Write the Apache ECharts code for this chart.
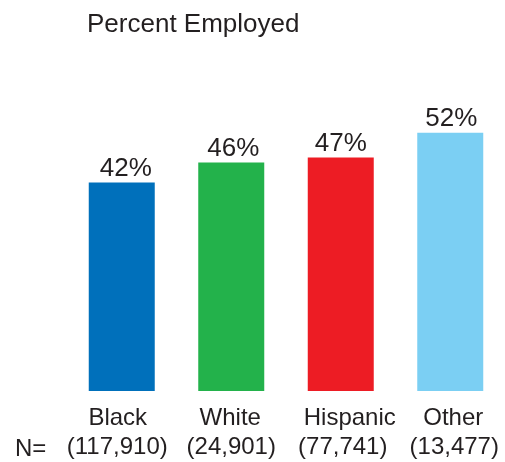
<!DOCTYPE html>
<html>
<head>
<meta charset="utf-8">
<script src="https://cdn.jsdelivr.net/npm/echarts@6/dist/echarts.min.js"></script>
<style>
  html, body { margin: 0; padding: 0; background: #fff; }
  #chart { width: 505px; height: 462px; }
</style>
</head>
<body>
<div id="chart"></div>
<script>
// Employment rate by group, with sample sizes
const groups = ['Black', 'White', 'Hispanic', 'Other'];
const sampleSizes = ['(117,910)', '(24,901)', '(77,741)', '(13,477)'];
const percentEmployed = [42, 46, 47, 52];
const barColors = ['#0070BB', '#23B24B', '#ED1C24', '#7BCFF3'];

const FONT = '"Liberation Sans", Arial, Helvetica, sans-serif';
const TEXT = '#231F20';

// Hand-tuned horizontal nudges (px) for each category's two label lines and value label
const nameShift = [-4, -1, 9, 3];
const countShift = [-4.5, 0, 2, 4];
const valueShift = [4, 2, 0, 1];

function shiftPadding(s) {
  return s < 0 ? [0, -2 * s, 0, 0] : [0, 0, 0, 2 * s];
}

const richStyles = {};
groups.forEach((g, i) => {
  richStyles['t' + i] = { fontFamily: FONT, fontSize: 24, lineHeight: 29, color: TEXT, padding: shiftPadding(nameShift[i]) };
  richStyles['n' + i] = { fontFamily: FONT, fontSize: 24, lineHeight: 29, color: TEXT, padding: shiftPadding(countShift[i]) };
});

const chart = echarts.init(document.getElementById('chart'), null, { renderer: 'canvas' });

chart.setOption({
  animation: false,
  backgroundColor: '#ffffff',
  title: {
    text: 'Percent Employed',
    left: 87,
    top: 12,
    padding: 0,
    textStyle: { fontFamily: FONT, fontSize: 26, fontWeight: 'normal', color: TEXT }
  },
  grid: { left: 67, width: 440, top: 93, height: 299 },
  xAxis: {
    type: 'category',
    data: groups,
    axisLine: { show: false },
    axisTick: { show: false },
    axisLabel: {
      margin: 13,
      fontFamily: FONT,
      fontSize: 24,
      lineHeight: 29,
      color: TEXT,
      interval: 0,
      formatter: (value, idx) => '{t' + idx + '|' + value + '}\n{n' + idx + '|' + sampleSizes[idx] + '}',
      rich: richStyles
    }
  },
  yAxis: {
    type: 'value',
    min: 0,
    max: 60,
    show: false,
    splitLine: { show: false }
  },
  series: [{
    type: 'bar',
    barWidth: 66,
    data: percentEmployed.map((v, i) => ({
      value: v,
      itemStyle: { color: barColors[i] },
      label: { offset: [valueShift[i], 0] }
    })),
    label: {
      show: true,
      position: 'top',
      distance: 1,
      formatter: p => p.value + '%',
      fontFamily: FONT,
      fontSize: 26,
      color: TEXT
    }
  }],
  graphic: [{
    type: 'text',
    left: 15,
    top: 437,
    style: { text: 'N=', font: '24px ' + FONT, fill: TEXT }
  }]
});
</script>
</body>
</html>
